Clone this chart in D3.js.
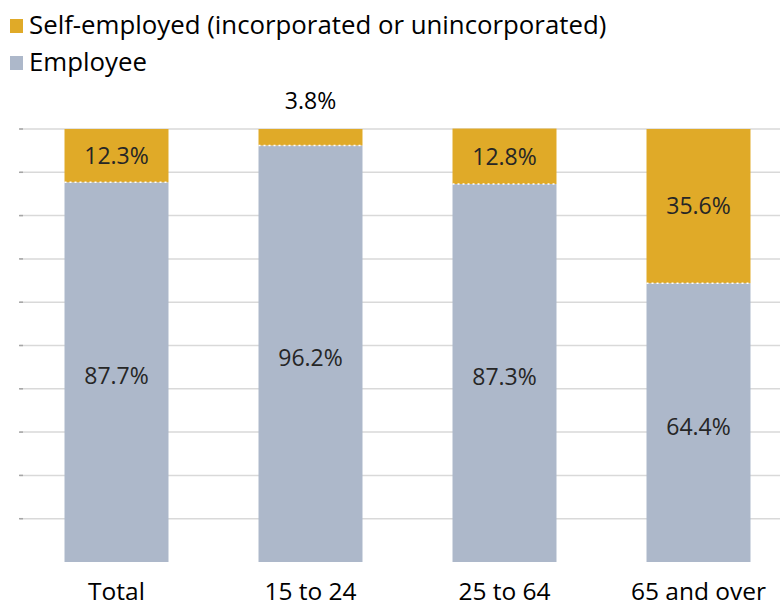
<!DOCTYPE html>
<html><head><meta charset="utf-8">
<script src="https://cdn.jsdelivr.net/npm/d3@7"></script>
<style>body{margin:0;background:#fff}svg{display:block}</style>
</head><body><svg id="c" width="780" height="606"></svg>
<script>
const categories = ["Total", "15 to 24", "25 to 64", "65 and over"];
const employee = [87.7, 96.2, 87.3, 64.4];
const selfEmployed = [12.3, 3.8, 12.8, 35.6];
const seriesNames = ["Self-employed (incorporated or unincorporated)", "Employee"];
const colors = {self: "#E0AA28", emp: "#ADB8CA"};
const gridTicks = [10, 20, 30, 40, 50, 60, 70, 80, 90, 100];

const svg = d3.select("#c");
const font = "'Open Sans', sans-serif";
const plotTop = 129, plotBottom = 562;
const x = d3.scaleBand().domain(categories).range([19.5, 795.5]).paddingInner(0.464).paddingOuter(0.232);
const y = d3.scaleLinear().domain([0, 100]).range([plotBottom, plotTop]);

svg.append("g").selectAll("line").data(gridTicks).join("line")
  .attr("x1", 20).attr("x2", 780)
  .attr("y1", d => y(d)).attr("y2", d => y(d))
  .attr("stroke", "#d9d9d9").attr("stroke-width", 1.5);
svg.append("g").selectAll("line").data(gridTicks).join("line")
  .attr("x1", 19).attr("x2", 23)
  .attr("y1", d => y(d)).attr("y2", d => y(d))
  .attr("stroke", "#a6a6a6").attr("stroke-width", 1.5);

const data = categories.map((c, i) => ({cat: c, emp: employee[i], self: selfEmployed[i]}));
const g = svg.append("g");
g.selectAll("rect.emp").data(data).join("rect").attr("class", "emp")
  .attr("x", d => x(d.cat)).attr("width", x.bandwidth())
  .attr("y", d => y(d.emp)).attr("height", d => y(0) - y(d.emp))
  .attr("fill", colors.emp);
g.selectAll("rect.self").data(data).join("rect").attr("class", "self")
  .attr("x", d => x(d.cat)).attr("width", x.bandwidth())
  .attr("y", d => y(d.emp + d.self)).attr("height", d => y(d.emp) - y(d.emp + d.self))
  .attr("fill", colors.self);
g.selectAll("line.b").data(data).join("line").attr("class", "b")
  .attr("x1", d => x(d.cat)).attr("x2", d => x(d.cat) + x.bandwidth())
  .attr("y1", d => y(d.emp)).attr("y2", d => y(d.emp))
  .attr("stroke", "#ffffff").attr("stroke-width", 1.5).attr("stroke-dasharray", "2,3");

const lab = svg.append("g").attr("font-family", font).attr("font-size", 23).attr("fill", "#262626").attr("text-anchor", "middle");
lab.selectAll("text.e").data(data).join("text").attr("class", "e")
  .attr("x", d => x(d.cat) + x.bandwidth() / 2)
  .attr("y", d => (y(0) + y(d.emp)) / 2 + 4).attr("dy", "0.35em")
  .text(d => d.emp.toFixed(1) + "%");
lab.selectAll("text.s").data(data).join("text").attr("class", "s")
  .attr("x", d => x(d.cat) + x.bandwidth() / 2)
  .attr("y", d => d.self < 8 ? y(100) - 28 : (y(d.emp) + y(100)) / 2)
  .attr("dy", "0.35em")
  .attr("fill", d => d.self < 8 ? "#000" : "#262626")
  .text(d => d.self.toFixed(1) + "%");

svg.append("g").attr("font-family", font).attr("font-size", 24.5).attr("text-anchor", "middle")
  .selectAll("text").data(categories).join("text")
  .attr("x", d => x(d) + x.bandwidth() / 2).attr("y", 600).text(d => d);

const lg = svg.append("g").attr("font-family", font).attr("font-size", 25.8);
const lc = [colors.self, colors.emp];
seriesNames.forEach((n, i) => {
  lg.append("rect").attr("x", 10).attr("y", 19 + i * 37).attr("width", 13).attr("height", 14).attr("fill", lc[i]);
  lg.append("text").attr("x", 29).attr("y", 34 + i * 37).text(n);
});
</script></body></html>
